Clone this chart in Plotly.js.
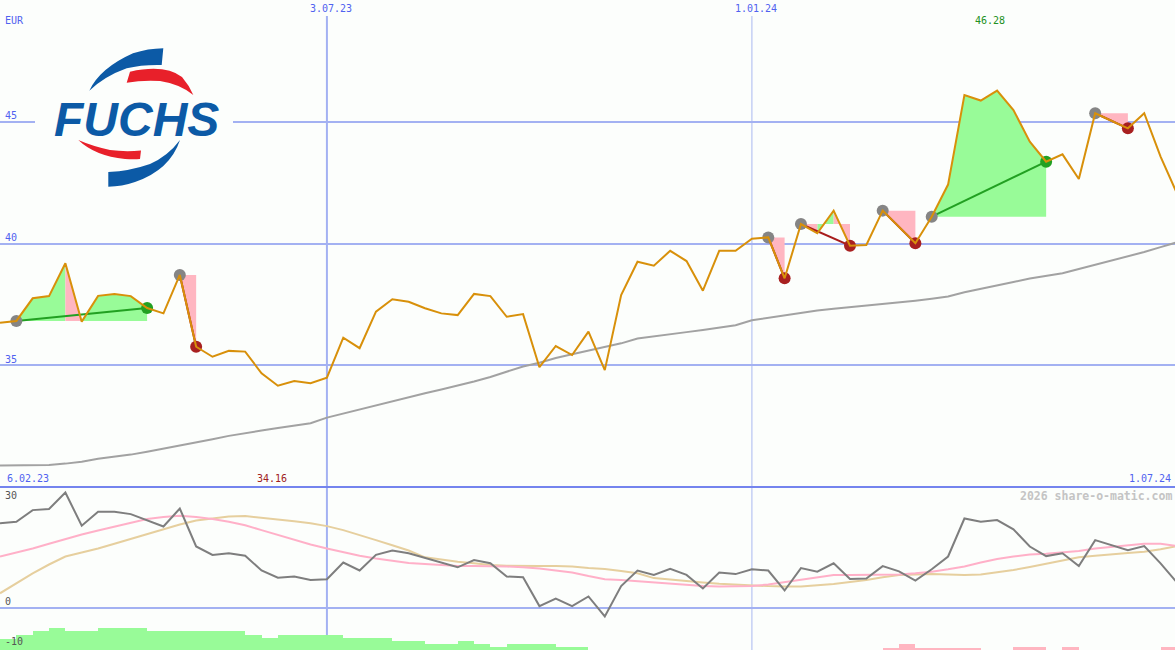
<!DOCTYPE html>
<html><head><meta charset="utf-8">
<script src="https://cdn.plot.ly/plotly-3.0.1.min.js"></script>
<style>html,body{margin:0;padding:0;background:#fcfefc;} #chart{width:1175px;height:650px;}</style>
</head><body><div id="chart"></div>
<script>
// ---------- DATA ----------
const weeks = ['2023-02-13','2023-02-20','2023-02-27','2023-03-06','2023-03-13','2023-03-20','2023-03-27','2023-04-03','2023-04-10','2023-04-17','2023-04-24','2023-05-01','2023-05-08','2023-05-15','2023-05-22','2023-05-29','2023-06-05','2023-06-12','2023-06-19','2023-06-26','2023-07-03','2023-07-10','2023-07-17','2023-07-24','2023-07-31','2023-08-07','2023-08-14','2023-08-21','2023-08-28','2023-09-04','2023-09-11','2023-09-18','2023-09-25','2023-10-02','2023-10-09','2023-10-16','2023-10-23','2023-10-30','2023-11-06','2023-11-13','2023-11-20','2023-11-27','2023-12-04','2023-12-11','2023-12-18','2023-12-25','2024-01-01','2024-01-08','2024-01-15','2024-01-22','2024-01-29','2024-02-05','2024-02-12','2024-02-19','2024-02-26','2024-03-04','2024-03-11','2024-03-18','2024-03-25','2024-04-01','2024-04-08','2024-04-15','2024-04-22','2024-04-29','2024-05-06','2024-05-13','2024-05-20','2024-05-27','2024-06-03','2024-06-10','2024-06-17','2024-06-24','2024-07-01'];
const price = [36.75,36.82,37.75,37.84,39.19,36.79,37.85,37.93,37.84,37.35,37.13,38.71,35.76,35.35,35.59,35.56,34.67,34.16,34.35,34.26,34.49,36.13,35.70,37.20,37.71,37.61,37.34,37.13,37.06,37.93,37.84,36.99,37.10,34.92,35.79,35.42,36.38,34.80,37.88,39.25,39.09,39.70,39.28,38.06,39.70,39.70,40.20,40.25,38.57,40.80,40.42,41.35,39.91,39.94,41.35,40.68,40.01,41.10,42.42,46.10,45.87,46.28,45.48,44.18,43.36,43.66,42.65,45.35,45.04,44.73,45.35,43.57,42.06];
const sma = [30.88,30.88,30.88,30.90,30.96,31.04,31.16,31.24,31.33,31.45,31.57,31.70,31.83,31.96,32.10,32.22,32.32,32.42,32.52,32.62,32.85,33.02,33.18,33.35,33.52,33.68,33.85,34.00,34.15,34.33,34.52,34.72,34.95,35.10,35.30,35.45,35.60,35.75,35.90,36.10,36.18,36.28,36.36,36.45,36.55,36.64,36.85,36.95,37.05,37.17,37.25,37.32,37.38,37.45,37.52,37.58,37.65,37.73,37.82,38.00,38.15,38.30,38.42,38.56,38.68,38.78,38.95,39.12,39.30,39.48,39.65,39.85,40.05];
const oscMain = [21.1,21.5,24.4,24.7,28.8,20.5,24.0,24.0,23.4,21.9,20.3,24.8,15.3,13.2,13.6,13.0,9.3,7.5,7.8,6.9,7.1,11.3,9.3,13.2,14.3,13.6,12.4,11.3,10.1,11.9,11.1,7.8,7.6,0.4,2.3,0.4,2.8,-2.2,5.4,9.3,8.2,9.7,8.2,4.8,8.8,8.4,9.6,9.3,4.3,9.9,9.0,11.1,7.2,7.3,10.4,9.1,6.8,9.6,12.8,22.3,21.5,21.9,19.6,15.3,12.9,13.6,10.4,16.9,15.7,14.4,15.4,11.1,6.3];
const oscPink = [12.8,13.8,14.8,16.0,17.2,18.3,19.3,20.3,21.3,22.2,22.7,23.0,22.7,22.2,21.5,20.6,19.4,18.2,17.0,15.8,14.8,13.9,13.0,12.3,11.7,11.2,10.9,10.6,10.4,10.4,10.4,10.3,10.1,9.8,9.3,8.8,7.9,7.1,6.9,6.6,6.3,6.0,5.7,5.4,5.3,5.3,5.4,5.8,6.4,7.1,7.7,8.2,8.2,8.2,8.3,8.3,8.6,9.0,9.6,10.3,11.3,12.2,12.8,13.3,13.5,13.8,14.2,14.8,15.2,15.7,16.0,16.0,15.4];
const oscTan = [3.6,6.2,8.6,10.8,12.8,13.8,14.8,16.0,17.2,18.3,19.5,20.8,21.8,22.3,22.8,22.9,22.5,22.1,21.6,21.1,20.4,19.4,18.2,16.9,15.6,14.3,12.6,12.0,11.5,11.1,10.7,10.5,10.4,10.4,10.4,10.3,9.9,9.7,9.2,8.6,7.4,7.0,6.6,6.3,6.0,5.8,5.5,5.4,5.3,5.3,5.6,5.9,6.4,6.9,7.6,8.2,8.3,8.4,8.3,8.2,8.3,8.9,9.4,10.2,11.0,11.8,12.6,13.0,13.4,13.7,14.0,14.6,15.4];
const momentum = [2.75,3.75,4.75,5.6,4.75,4.75,5.6,5.6,5.6,4.75,4.75,4.75,4.75,4.75,4.75,3.75,3.1,3.75,3.75,3.75,3.75,3.1,3.1,3.1,2.25,2.25,1.5,1.5,2.25,1.5,0.8,1.5,1.5,1.5,0.8,0.8,0,0,0,0,0,0,0,0,0,0,0,0,0,0,0,0,0,0,-0.6,-1.5,-0.6,-0.6,-0.6,-0.6,0,0,-0.8,-0.8,0,-0.8,0,0,0,0,0,-0.8,0];
const tradeEntry = [1,11,47,49,54,57,67];
const tradeExit  = [9,12,48,52,56,64,69];
const yTicks = [35,40,45];
const lowerTicks = [30,0,-10];
const dateLines = ['2023-07-03','2024-01-01'];
const dateLineText = ['3.07.23','1.01.24'];
const rangeStartText = '6.02.23', rangeEndText = '1.07.24';
const currency = 'EUR';
const logoText = 'FUCHS';
const watermark = '2026 share-o-matic.com';

// ---------- STYLE ----------
const W = 1175, H = 650;
const BG = '#fcfefc';
const GRID = '#a3b1f2';
const TXT = '#5062f0';
const MONO = 'DejaVu Sans Mono, monospace';
const X_RANGE = ['2023-02-13', '2024-06-30 04:19'];
const Y1 = [30, 50], Y2 = [-10.58, 30.18];
const SPLIT = 163 / H;
const GREEN_FILL = '#98fb98', PINK_FILL = '#ffb6c1';
const WEEK_MS = 7 * 24 * 3600 * 1000;

const traces = [];

// trade fills (between price and entry level, per segment)
const gx = [], gy = [], px = [], py = [];
tradeEntry.forEach((e, k) => {
  const L = price[e], x = tradeExit[k];
  for (let j = e; j < x; j++) {
    const tx = price[j+1] > L ? gx : px, ty = price[j+1] > L ? gy : py;
    tx.push(weeks[j], weeks[j], weeks[j+1], weeks[j+1], null);
    ty.push(L, price[j], price[j+1], L, null);
  }
});
traces.push({x: gx, y: gy, mode: 'none', fill: 'toself', fillcolor: GREEN_FILL, xaxis: 'x', yaxis: 'y', hoverinfo: 'skip'});
traces.push({x: px, y: py, mode: 'none', fill: 'toself', fillcolor: PINK_FILL, xaxis: 'x', yaxis: 'y', hoverinfo: 'skip'});

// moving average
traces.push({x: weeks, y: sma, mode: 'lines', line: {color: '#a2a2a2', width: 2}, xaxis: 'x', yaxis: 'y'});

// trade connecting lines
const wlx = [], wly = [], llx = [], lly = [];
tradeEntry.forEach((e, k) => {
  const x = tradeExit[k], win = price[x] > price[e];
  (win ? wlx : llx).push(weeks[e], weeks[x], null);
  (win ? wly : lly).push(price[e], price[x], null);
});
traces.push({x: wlx, y: wly, mode: 'lines', line: {color: '#22a022', width: 2}, xaxis: 'x', yaxis: 'y'});
traces.push({x: llx, y: lly, mode: 'lines', line: {color: '#a81c1c', width: 2}, xaxis: 'x', yaxis: 'y'});

// markers
traces.push({x: tradeEntry.map(i => weeks[i]), y: tradeEntry.map(i => price[i]), mode: 'markers',
  marker: {color: '#858585', size: 12, line: {width: 0}}, xaxis: 'x', yaxis: 'y'});
traces.push({x: tradeExit.map(i => weeks[i]), y: tradeExit.map(i => price[i]), mode: 'markers',
  marker: {color: tradeExit.map((i, k) => price[i] > price[tradeEntry[k]] ? '#22a022' : '#a82020'), size: 12, line: {width: 0}},
  xaxis: 'x', yaxis: 'y'});

// price line
traces.push({x: weeks, y: price, mode: 'lines', line: {color: '#d8900a', width: 2}, xaxis: 'x', yaxis: 'y'});

// lower panel: momentum bars from the panel bottom
traces.push({type: 'bar', x: weeks, y: momentum.map(v => v > 0 ? v : 0), base: Y2[0], width: WEEK_MS, offset: 0,
  marker: {color: GREEN_FILL, line: {width: 0}}, xaxis: 'x', yaxis: 'y2'});
traces.push({type: 'bar', x: weeks, y: momentum.map(v => v < 0 ? -v : 0), base: Y2[0], width: WEEK_MS, offset: 0,
  marker: {color: PINK_FILL, line: {width: 0}}, xaxis: 'x', yaxis: 'y2'});
traces.push({x: weeks, y: oscTan, mode: 'lines', line: {color: '#e6cf9e', width: 2}, xaxis: 'x', yaxis: 'y2'});
traces.push({x: weeks, y: oscPink, mode: 'lines', line: {color: '#ffb0c8', width: 2}, xaxis: 'x', yaxis: 'y2'});
traces.push({x: weeks, y: oscMain, mode: 'lines', line: {color: '#7e7e7e', width: 2}, xaxis: 'x', yaxis: 'y2'});

// ---------- ANNOTATIONS ----------
function P(text, pxv, pyv, xanchor, color, extra) {
  return Object.assign({text, xref: 'paper', yref: 'paper', x: pxv / W, y: 1 - pyv / H, xanchor, yanchor: 'middle',
    showarrow: false, borderpad: 0, font: {family: MONO, size: 10, color}}, extra || {});
}
const anns = [];
anns.push(P(currency, 4, 21, 'left', TXT));
yTicks.forEach(v => anns.push({text: String(v), xref: 'paper', yref: 'y', x: 4 / W, y: v, yshift: 6, xanchor: 'left', yanchor: 'middle',
  showarrow: false, borderpad: 0, font: {family: MONO, size: 10, color: TXT}}));
dateLines.forEach((d, k) => anns.push({text: dateLineText[k], xref: 'x', yref: 'paper', x: d, xshift: 4, y: 1 - 9 / H,
  xanchor: 'center', yanchor: 'middle', showarrow: false, borderpad: 0, font: {family: MONO, size: 10, color: TXT}}));
anns.push(P(rangeStartText, 6, 478, 'left', TXT));
anns.push(P(rangeEndText, 1172, 478, 'right', TXT));
const maxV = Math.max(...price), minV = Math.min(...price);
anns.push({text: maxV.toFixed(2), xref: 'x', yref: 'paper', x: weeks[price.indexOf(maxV)], xshift: -7, y: 1 - 21 / H,
  xanchor: 'center', yanchor: 'middle', showarrow: false, borderpad: 0, font: {family: MONO, size: 10, color: '#229022'}});
anns.push({text: minV.toFixed(2), xref: 'x', yref: 'paper', x: weeks[price.indexOf(minV)], xshift: -6, y: 1 - 478 / H,
  xanchor: 'center', yanchor: 'middle', showarrow: false, borderpad: 0, font: {family: MONO, size: 10, color: '#a02020'}});
lowerTicks.forEach(v => anns.push({text: String(v), xref: 'paper', yref: 'y2', x: 4 / W, y: v, yshift: v === 30 ? -8 : 6,
  xanchor: 'left', yanchor: 'middle', showarrow: false, borderpad: 0, font: {family: MONO, size: 10, color: '#555555'}}));
anns.push(P('<b>' + watermark + '</b>', 1173, 496, 'right', '#c4c4c4', {font: {family: MONO, size: 11.5, color: '#c4c4c4'}}));
anns.push(P('<b><i>' + logoText + '</i></b>', 136, 119, 'center', '#0c5aa6',
  {font: {family: 'Liberation Sans, Arial, sans-serif', size: 48, color: '#0c5aa6'}}));

// ---------- LOGO ARCS ----------
const logoSvg = '<svg xmlns="http://www.w3.org/2000/svg" viewBox="5 0 198 155" width="198" height="155" preserveAspectRatio="none">' +
  '<rect x="5" y="0" width="198" height="155" fill="' + BG + '"/>' +
  '<path d="M59.3,50.7 Q70,28 103,13.3 Q118,8.5 133.3,8.3 L131.7,25 Q112,24.5 96.7,28.3 Q75,36 59.3,50.7 Z" fill="#0c5aa6"/>' +
  '<path d="M100,31.7 Q135,24 152,37 Q159,45 163.3,55 Q150,44 130,41 Q112,40 96.7,42.7 Z" fill="#e8202a"/>' +
  '<path d="M48.3,100 Q65,116 95,119 Q104,119.5 110,119 L111,110.5 Q95,112 80,110 Q62,106 48.3,100 Z" fill="#e8202a"/>' +
  '<path d="M150,100 Q140,130 105,142 Q92,146.5 78.3,146.7 L78.3,132 Q100,131 120,124 Q138,116 150,100 Z" fill="#0c5aa6"/>' +
  '</svg>';

const shapes = [
  {type: 'line', xref: 'x', yref: 'paper', x0: dateLines[0], x1: dateLines[0], y0: 0, y1: 1 - 16 / H, line: {color: GRID, width: 2}, layer: 'below'},
  {type: 'line', xref: 'x', yref: 'paper', x0: dateLines[1], x1: dateLines[1], y0: 0, y1: 1 - 16 / H, line: {color: '#aab8f0', width: 1}, layer: 'below'},
  {type: 'line', xref: 'paper', yref: 'paper', x0: 0, x1: 1, y0: SPLIT, y1: SPLIT, line: {color: '#7484ee', width: 2}, layer: 'above'}
];

const layout = {
  width: W, height: H, margin: {l: 0, r: 0, t: 0, b: 0, pad: 0},
  paper_bgcolor: BG, plot_bgcolor: BG, showlegend: false, bargap: 0, barmode: 'overlay',
  xaxis: {type: 'date', range: X_RANGE, showgrid: false, zeroline: false, showticklabels: false, showline: false, ticks: '', anchor: 'y2', fixedrange: true},
  yaxis: {domain: [SPLIT, 1], range: Y1, tickvals: yTicks, showgrid: true, gridcolor: GRID, gridwidth: 2, zeroline: false, showticklabels: false, ticks: '', showline: false, fixedrange: true},
  yaxis2: {domain: [0, SPLIT], range: Y2, tickvals: [0], showgrid: true, gridcolor: GRID, gridwidth: 2, zeroline: false, showticklabels: false, ticks: '', showline: false, fixedrange: true},
  shapes, annotations: anns,
  images: [{source: 'data:image/svg+xml;charset=utf-8,' + encodeURIComponent(logoSvg), xref: 'paper', yref: 'paper',
    x: 35 / W, y: 1 - 40 / H, sizex: 198 / W, sizey: 155 / H, xanchor: 'left', yanchor: 'top', sizing: 'stretch', layer: 'above'}]
};

Plotly.newPlot('chart', traces, layout, {displayModeBar: false, staticPlot: true});
</script></body></html>
